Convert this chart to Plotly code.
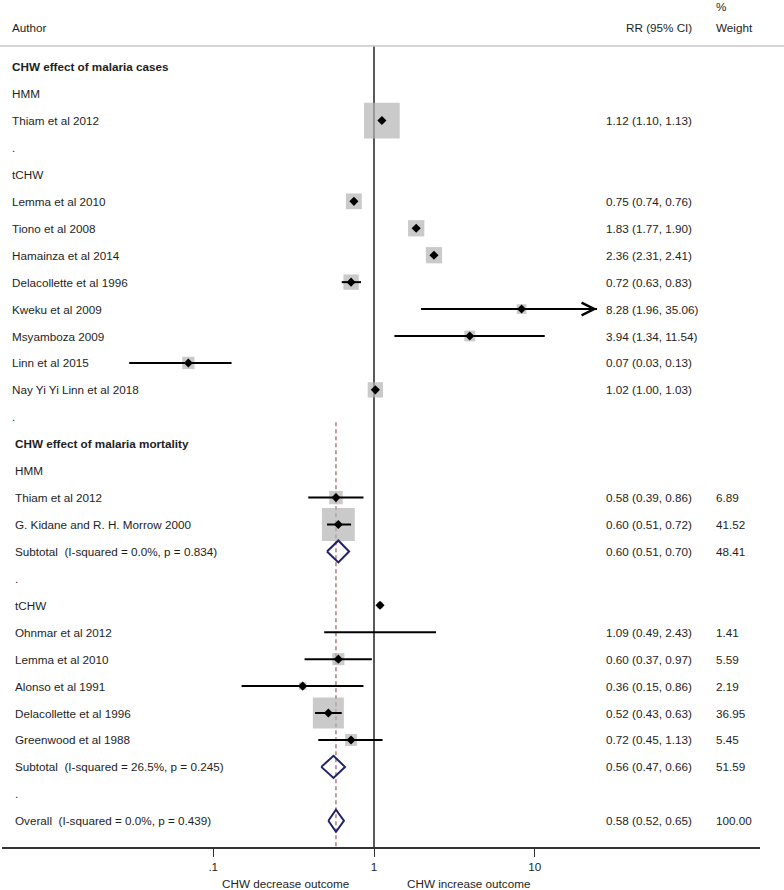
import numpy as np
import plotly.graph_objects as go

# ---------------- data ----------------
# CHW effect of malaria cases
cases_hmm_authors = ["Thiam et al 2012"]
cases_hmm_rr = [1.12]
cases_hmm_lo = [1.10]
cases_hmm_hi = [1.13]
cases_hmm_weight_est = [49.0]   # weights not printed

cases_tchw_authors = ["Lemma et al 2010", "Tiono et al 2008", "Hamainza et al 2014",
                      "Delacollette et al 1996", "Kweku et al 2009", "Msyamboza 2009",
                      "Linn et al 2015", "Nay Yi Yi Linn et al 2018"]
cases_tchw_rr = [0.75, 1.83, 2.36, 0.72, 8.28, 3.94, 0.07, 1.02]
cases_tchw_lo = [0.74, 1.77, 2.31, 0.63, 1.96, 1.34, 0.03, 1.00]
cases_tchw_hi = [0.76, 1.90, 2.41, 0.83, 35.06, 11.54, 0.13, 1.03]
cases_tchw_weight_est = [9.6, 10.2, 10.2, 9.0, 3.6, 4.4, 5.8, 9.0]

# CHW effect of malaria mortality
mort_hmm_authors = ["Thiam et al 2012", "G. Kidane and R. H. Morrow 2000"]
mort_hmm_rr = [0.58, 0.60]
mort_hmm_lo = [0.39, 0.51]
mort_hmm_hi = [0.86, 0.72]
mort_hmm_weight = [6.89, 41.52]
mort_hmm_sub_label = "Subtotal  (I-squared = 0.0%, p = 0.834)"
mort_hmm_sub = [0.60, 0.51, 0.70, 48.41]

mort_tchw_authors = ["Ohnmar et al 2012", "Lemma et al 2010", "Alonso et al 1991",
                     "Delacollette et al 1996", "Greenwood et al 1988"]
mort_tchw_rr = [1.09, 0.60, 0.36, 0.52, 0.72]
mort_tchw_lo = [0.49, 0.37, 0.15, 0.43, 0.45]
mort_tchw_hi = [2.43, 0.97, 0.86, 0.63, 1.13]
mort_tchw_weight = [1.41, 5.59, 2.19, 36.95, 5.45]
mort_tchw_sub_label = "Subtotal  (I-squared = 26.5%, p = 0.245)"
mort_tchw_sub = [0.56, 0.47, 0.66, 51.59]

overall_label = "Overall  (I-squared = 0.0%, p = 0.439)"
overall = [0.58, 0.52, 0.65, 100.00]

tick_vals = [0.1, 1, 10]
tick_text = [".1", "1", "10"]

# ---------------- style ----------------
FONT = "Liberation Sans, Arial, sans-serif"
FS = 11.7
TXT = "#1e1e1e"
BOX = "#b4b4b4"
NAVY = "#20206e"
DASH = "#9b5a5f"
W, H = 784, 890
ML, MR, MT, MB = 2, 24, 46, 43
PW = W - ML - MR
PH = H - MT - MB
PX1 = 374.0          # pixel of RR = 1
DEC = 160.75         # pixels per decade
ROW0 = 66.7          # pixel of first row
ROWH = 26.93         # pixels per row
X_RANGE = [(ML - PX1) / DEC, (W - MR - PX1) / DEC]
Y_TOP = (MT - ROW0) / ROWH
Y_BOT = (H - MB - ROW0) / ROWH
CLIP_HI = 24.4
BOX_K = 5.1
DIAM_H = 11 / ROWH


def px_to_paper(px):
    return (px - ML) / PW


# ---------------- build rows ----------------
rows = []   # dicts


def add(kind, label="", indent=10, **kw):
    d = dict(kind=kind, label=label, indent=indent)
    d.update(kw)
    rows.append(d)


add("title", "CHW effect of malaria cases")
add("group", "HMM")
for a, r, l, h, w in zip(cases_hmm_authors, cases_hmm_rr, cases_hmm_lo, cases_hmm_hi, cases_hmm_weight_est):
    add("study", a, rr=r, lo=l, hi=h, w=w, showw=False)
add("dot", ".")
add("group", "tCHW")
for a, r, l, h, w in zip(cases_tchw_authors, cases_tchw_rr, cases_tchw_lo, cases_tchw_hi, cases_tchw_weight_est):
    add("study", a, rr=r, lo=l, hi=h, w=w, showw=False)
add("dot", ".")
mort_title_row = len(rows)
add("title", "CHW effect of malaria mortality", 13)
add("group", "HMM", 13)
for a, r, l, h, w in zip(mort_hmm_authors, mort_hmm_rr, mort_hmm_lo, mort_hmm_hi, mort_hmm_weight):
    add("study", a, 13, rr=r, lo=l, hi=h, w=w, showw=True)
add("pooled", mort_hmm_sub_label, 13, rr=mort_hmm_sub[0], lo=mort_hmm_sub[1], hi=mort_hmm_sub[2], w=mort_hmm_sub[3])
add("dot", ".", 13)
add("group", "tCHW", 13)
for i, (a, r, l, h, w) in enumerate(zip(mort_tchw_authors, mort_tchw_rr, mort_tchw_lo, mort_tchw_hi, mort_tchw_weight)):
    # the original draws the first study's point estimate on the subgroup label row
    add("study", a, 13, rr=r, lo=l, hi=h, w=w, showw=True, pt_shift=(-1 if i == 0 else 0))
add("pooled", mort_tchw_sub_label, 13, rr=mort_tchw_sub[0], lo=mort_tchw_sub[1], hi=mort_tchw_sub[2], w=mort_tchw_sub[3])
add("dot", ".", 13)
add("pooled", overall_label, 13, rr=overall[0], lo=overall[1], hi=overall[2], w=overall[3])

fig = go.Figure()

# reference line at 1
fig.add_trace(go.Scatter(x=[1, 1], y=[Y_BOT, Y_TOP], mode="lines",
                         line=dict(color="black", width=1.3), hoverinfo="skip"))
# overall effect dashed line
fig.add_trace(go.Scatter(x=[overall[0], overall[0]], y=[mort_title_row - 0.8, Y_BOT], mode="lines",
                         line=dict(color=DASH, width=1.2, dash="4px,3px"), hoverinfo="skip"))

studies = [(i, r) for i, r in enumerate(rows) if r["kind"] == "study"]
pt_rows = [i + r.get("pt_shift", 0) for i, r in studies]

# boxes
fig.add_trace(go.Scatter(
    x=[r["rr"] for _, r in studies], y=pt_rows, mode="markers",
    marker=dict(symbol="square", color=BOX, size=[BOX_K * np.sqrt(r["w"]) for _, r in studies],
                line=dict(width=0)),
    hoverinfo="skip"))

# CI lines
cx, cy = [], []
for i, r in studies:
    cx += [max(r["lo"], 10 ** X_RANGE[0]), min(r["hi"], CLIP_HI), None]
    cy += [i, i, None]
fig.add_trace(go.Scatter(x=cx, y=cy, mode="lines", line=dict(color="black", width=2),
                         hoverinfo="skip"))

# point estimates
fig.add_trace(go.Scatter(
    x=[r["rr"] for _, r in studies], y=pt_rows, mode="markers",
    marker=dict(symbol="diamond", color="black", size=7, line=dict(width=0)),
    hoverinfo="skip"))

# pooled diamonds
for i, r in enumerate(rows):
    if r["kind"] == "pooled":
        fig.add_trace(go.Scatter(
            x=[r["lo"], r["rr"], r["hi"], r["rr"], r["lo"]],
            y=[i, i - DIAM_H, i, i + DIAM_H, i], mode="lines",
            line=dict(color=NAVY, width=2), hoverinfo="skip"))

# arrows for clipped CIs
for i, r in studies:
    if r["hi"] > CLIP_HI:
        fig.add_annotation(x=np.log10(CLIP_HI), y=i, ax=np.log10(r["lo"]), ay=i,
                           xref="x", yref="y", axref="x", ayref="y", text="",
                           showarrow=True, arrowhead=5, arrowsize=1.25, arrowwidth=2,
                           arrowcolor="black", standoff=0)

# text columns
for i, r in enumerate(rows):
    lab = r["label"]
    if r["kind"] == "title":
        lab = "<b>" + lab + "</b>"
    fig.add_annotation(x=px_to_paper(r["indent"]), y=i, xref="paper", yref="y", text=lab,
                       showarrow=False, xanchor="left", yanchor="middle")
    if r["kind"] in ("study", "pooled"):
        fig.add_annotation(x=px_to_paper(604), y=i, xref="paper", yref="y",
                           text=f"{r['rr']:.2f} ({r['lo']:.2f}, {r['hi']:.2f})",
                           showarrow=False, xanchor="left", yanchor="middle")
        if r["kind"] == "pooled" or r.get("showw"):
            fig.add_annotation(x=px_to_paper(714), y=i, xref="paper", yref="y",
                               text=f"{r['w']:.2f}", showarrow=False,
                               xanchor="left", yanchor="middle")

# headers
def paper_y(py):
    return (H - MB - py) / PH

fig.add_annotation(x=px_to_paper(10), y=paper_y(28), xref="paper", yref="paper", text="Author",
                   showarrow=False, xanchor="left", yanchor="middle")
fig.add_annotation(x=px_to_paper(694), y=paper_y(28), xref="paper", yref="paper", text="RR (95% CI)",
                   showarrow=False, xanchor="right", yanchor="middle")
fig.add_annotation(x=px_to_paper(714), y=paper_y(28), xref="paper", yref="paper", text="Weight",
                   showarrow=False, xanchor="left", yanchor="middle")
fig.add_annotation(x=px_to_paper(714), y=paper_y(6), xref="paper", yref="paper", text="%",
                   showarrow=False, xanchor="left", yanchor="middle")
fig.add_annotation(x=px_to_paper(285), y=paper_y(884), xref="paper", yref="paper",
                   text="CHW decrease outcome", showarrow=False, xanchor="center", yanchor="middle")
fig.add_annotation(x=px_to_paper(468), y=paper_y(884), xref="paper", yref="paper",
                   text="CHW increase outcome", showarrow=False, xanchor="center", yanchor="middle")

# header rule
fig.add_shape(type="line", xref="paper", yref="paper", x0=px_to_paper(0), x1=px_to_paper(W),
              y0=1, y1=1, line=dict(color="#c8c8c8", width=1.5))

fig.update_layout(
    width=W, height=H, margin=dict(l=ML, r=MR, t=MT, b=MB),
    paper_bgcolor="white", plot_bgcolor="white", showlegend=False,
    font=dict(family=FONT, size=FS, color=TXT),
    xaxis=dict(type="log", range=X_RANGE, tickvals=tick_vals, ticktext=tick_text,
               ticks="outside", ticklen=8, tickwidth=1.2, tickcolor="#333",
               showline=True, linecolor="#333", linewidth=1.5, showgrid=False,
               zeroline=False, tickfont=dict(family=FONT, size=FS, color=TXT), fixedrange=True),
    yaxis=dict(range=[Y_BOT, Y_TOP], visible=False, fixedrange=True),
)

fig.write_html("out.html", config={"displayModeBar": False},
               post_script="document.body.style.margin='0px';document.body.style.padding='0px';")
